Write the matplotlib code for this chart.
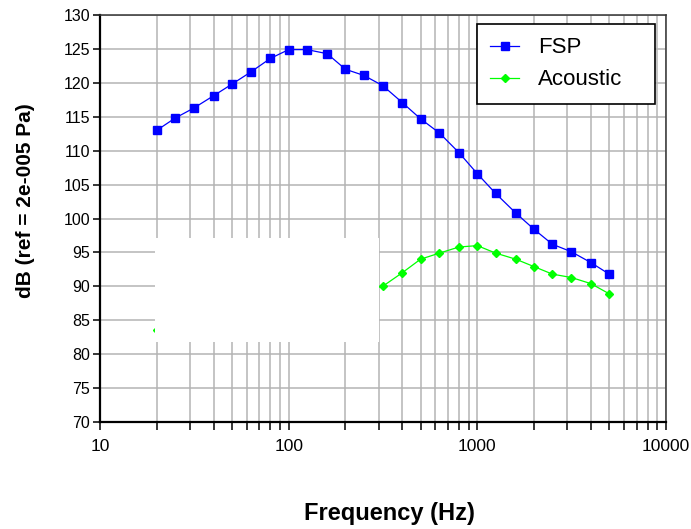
import numpy as np
import matplotlib
matplotlib.use('Agg')
from matplotlib import pyplot as plt
from matplotlib.patches import Rectangle
from matplotlib.ticker import LogLocator, FixedLocator, NullFormatter

plt.rcParams['font.family'] = ['Liberation Sans', 'DejaVu Sans']

# 1/3-octave band centre frequencies (Hz)
freq = [20, 25, 31.5, 40, 50, 63, 80, 100, 125, 160, 200, 250, 315, 400,
        500, 630, 800, 1000, 1250, 1600, 2000, 2500, 3150, 4000, 5000]
fsp_db = [113.0, 114.8, 116.3, 118.1, 119.8, 121.6, 123.6, 124.9, 124.9, 124.3,
          122.0, 121.1, 119.6, 117.1, 114.7, 112.6, 109.7, 106.6, 103.7, 100.8,
          98.4, 96.2, 95.1, 93.5, 91.8]

# acoustic bands 25-250 Hz are blanked out in this plot
acoustic_freq = [20, 315, 400, 500, 630, 800, 1000, 1250, 1600, 2000, 2500, 3150, 4000, 5000]
acoustic_db = [83.6, 90.0, 92.0, 94.0, 94.9, 95.8, 96.0, 94.9, 94.0, 92.9, 91.8, 91.3, 90.4, 88.9]

# blank panel (frequency range, dB range)
blank_f = (19.6, 301)
blank_db = (81.8, 97.1)

fig = plt.figure(figsize=(6.91, 5.29), dpi=100)
ax = fig.add_axes([0.1447, 0.2023, 0.8191, 0.7693])

ax.plot(freq, fsp_db, c='#0000ff', marker='s', ms=5.8, lw=0.9, label='FSP', zorder=3)
ax.plot(acoustic_freq, acoustic_db, c='#00ff00', marker='D', ms=4, lw=0.9, label='Acoustic', zorder=3)

ax.add_patch(Rectangle((blank_f[0], blank_db[0]), blank_f[1] - blank_f[0], blank_db[1] - blank_db[0],
                       facecolor='white', edgecolor='none', zorder=4))

ax.set_xscale('log')
ax.set_xlim(10, 10000)
ax.set_ylim(70, 130)
ax.yaxis.set_major_locator(FixedLocator(np.arange(70, 131, 5)))
ax.xaxis.set_major_locator(LogLocator(base=10, numticks=10))
ax.xaxis.set_minor_locator(LogLocator(base=10, subs=np.arange(2, 10), numticks=20))
ax.xaxis.set_minor_formatter(NullFormatter())
ax.set_xticks([10, 100, 1000, 10000])
ax.set_xticklabels(['10', '100', '1000', '10000'])

ax.grid(True, which='both', axis='x', color='#b4b4b4', lw=1.1, zorder=0)
ax.grid(True, which='major', axis='y', color='#b4b4b4', lw=1.1, zorder=0)
ax.set_axisbelow(True)

ax.tick_params(axis='both', which='both', direction='out', color='black', width=1.1)
ax.tick_params(axis='x', which='major', length=6, labelsize=12.5, pad=6)
ax.tick_params(axis='x', which='minor', length=6)
ax.tick_params(axis='y', which='major', length=5, labelsize=11.5, pad=2)
ax.tick_params(axis='y', which='minor', length=0)

for side in ['left', 'bottom']:
    ax.spines[side].set_linewidth(1.6)
for side in ['top', 'right']:
    ax.spines[side].set_linewidth(1.1)
    ax.spines[side].set_color('#333333')

ax.set_xlabel('Frequency (Hz)', fontsize=17, fontweight='bold')
ax.xaxis.set_label_coords(0.512, -0.197)
ax.set_ylabel('dB (ref = 2e-005 Pa)', fontsize=15, fontweight='bold')
ax.yaxis.set_label_coords(-0.115, 0.543)

leg = ax.legend(loc='upper left', bbox_to_anchor=(0.666, 0.786, 0.3145, 0.192), mode='expand',
                fontsize=16, fancybox=False, framealpha=1, edgecolor='black',
                borderpad=0.6, handlelength=1.3, labelspacing=0.5, handletextpad=0.85,
                borderaxespad=0)
leg.get_frame().set_linewidth(1.2)
leg.set_zorder(5)

plt.savefig('out.png', dpi=100)
plt.close()
